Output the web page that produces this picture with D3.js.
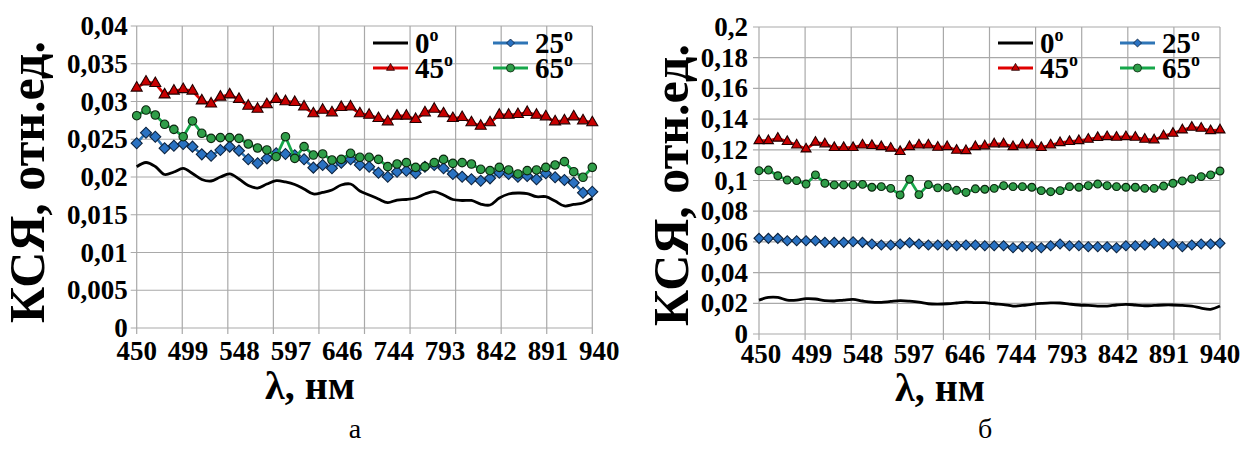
<!DOCTYPE html>
<html><head><meta charset="utf-8">
<script src="https://cdn.jsdelivr.net/npm/d3@7"></script>
<style>html,body{margin:0;padding:0;background:#fff;}svg{display:block;}
text{font-family:"Liberation Serif","Times New Roman","DejaVu Serif",serif;}</style>
</head><body>
<svg id="chart" width="1247" height="452"></svg>
<script>
// ---------- DATA ----------
const wavelengths = [450,460,470,480,490,500,510,520,530,540,550,560,570,580,590,600,610,620,630,640,650,660,670,680,690,700,710,720,730,740,750,760,770,780,790,800,810,820,830,840,850,860,870,880,890,900,910,920,930,940];
const xTickLabels = ["450","499","548","597","646","744","793","842","891","940"];
const gridWavelengths = [450,499,548,597,646,695,744,793,842,891,940];
const seriesNames = ["0","25","45","65"];

const yTicksA = [0,0.005,0.01,0.015,0.02,0.025,0.03,0.035,0.04];
const yTicksB = [0,0.02,0.04,0.06,0.08,0.1,0.12,0.14,0.16,0.18,0.2];

// Chart "а"
const a0 = [0.02136,0.02192,0.02139,0.02033,0.02066,0.02113,0.02046,0.01967,0.01947,0.0200,0.0204,0.01974,0.01887,0.01854,0.01907,0.01951,0.01934,0.01901,0.01841,0.01775,0.01795,0.01828,0.01894,0.01907,0.01815,0.01762,0.01709,0.0166,0.01695,0.01702,0.01722,0.01775,0.01805,0.01762,0.01702,0.01689,0.01689,0.01642,0.01629,0.01722,0.01775,0.01788,0.01781,0.01739,0.01739,0.01682,0.01616,0.01636,0.01656,0.01718];
const a25 = [0.02446,0.02587,0.02534,0.0238,0.02415,0.02437,0.02402,0.023,0.02282,0.02358,0.02402,0.02349,0.02234,0.02181,0.02247,0.02314,0.02305,0.02287,0.02234,0.02124,0.02159,0.02115,0.0219,0.02234,0.02159,0.02137,0.02057,0.02004,0.0207,0.02084,0.02049,0.02137,0.02159,0.02115,0.0204,0.02004,0.01969,0.01951,0.01982,0.02057,0.0204,0.02004,0.02013,0.01969,0.02049,0.01996,0.0196,0.01925,0.01792,0.01805];
const a45 = [0.0318,0.0326,0.0324,0.0309,0.0314,0.0316,0.0314,0.0301,0.0297,0.0306,0.0309,0.0303,0.0294,0.029,0.0296,0.0303,0.03,0.0299,0.0293,0.0284,0.02887,0.02852,0.02923,0.0293,0.0284,0.02821,0.02777,0.02733,0.02808,0.02808,0.02764,0.02852,0.029,0.0284,0.02777,0.0279,0.0272,0.02675,0.0272,0.02821,0.02821,0.0283,0.02857,0.02821,0.02799,0.02733,0.02746,0.02799,0.02746,0.0272];
const a65 = [0.02812,0.02887,0.02821,0.02698,0.02631,0.02534,0.02742,0.02579,0.02512,0.02521,0.02521,0.02512,0.02437,0.02384,0.02358,0.02269,0.02534,0.02247,0.02402,0.02291,0.02305,0.02225,0.02234,0.02314,0.02261,0.02261,0.02234,0.02137,0.02172,0.0219,0.02128,0.02137,0.0219,0.02234,0.02181,0.0219,0.02172,0.02102,0.02084,0.02128,0.02093,0.0204,0.02084,0.02093,0.02128,0.02159,0.02203,0.0207,0.01996,0.02128];

// Chart "б"
const b0 = [0.0221,0.0238,0.0238,0.0221,0.0221,0.023,0.0228,0.0218,0.0215,0.0221,0.0225,0.0215,0.0207,0.0206,0.0212,0.0217,0.0214,0.0208,0.0197,0.0195,0.0197,0.0202,0.0208,0.0205,0.0204,0.0197,0.0192,0.0182,0.0186,0.0193,0.0199,0.0203,0.0202,0.0195,0.0189,0.0186,0.0182,0.0182,0.0189,0.0193,0.0189,0.0184,0.0186,0.0189,0.0189,0.0186,0.0182,0.0169,0.0161,0.0182];
const b25 = [0.0623,0.0623,0.0623,0.0608,0.0608,0.0608,0.0608,0.0597,0.0597,0.0597,0.0601,0.0597,0.0586,0.058,0.058,0.0586,0.0595,0.0586,0.058,0.058,0.058,0.0575,0.058,0.058,0.0575,0.0575,0.0575,0.0562,0.0569,0.0569,0.0562,0.0575,0.0586,0.0575,0.0575,0.0569,0.0569,0.0569,0.0562,0.0575,0.0575,0.058,0.0591,0.0586,0.0586,0.0569,0.058,0.0586,0.0586,0.0591];
const b45 = [0.1259,0.1259,0.1275,0.1253,0.1231,0.1205,0.1249,0.1238,0.1214,0.1214,0.1214,0.1231,0.1227,0.122,0.121,0.1188,0.122,0.1231,0.1231,0.1216,0.122,0.1196,0.1194,0.122,0.1225,0.1238,0.1238,0.122,0.1231,0.1231,0.1214,0.1231,0.1246,0.1253,0.1259,0.1268,0.1279,0.1285,0.1281,0.1285,0.1281,0.1268,0.1264,0.129,0.1307,0.1329,0.1346,0.134,0.1324,0.1329];
const b65 = [0.1064,0.1068,0.1031,0.1003,0.0999,0.0977,0.1036,0.0982,0.0971,0.0971,0.0971,0.0975,0.0956,0.096,0.0949,0.0906,0.1008,0.0908,0.0973,0.0952,0.0955,0.0936,0.0922,0.0946,0.0943,0.0949,0.0966,0.096,0.096,0.0956,0.0934,0.0927,0.0934,0.096,0.0956,0.0966,0.0977,0.0966,0.096,0.0956,0.0956,0.0949,0.0949,0.0964,0.0982,0.0997,0.101,0.1025,0.1036,0.1062];

// ---------- STYLE ----------
const GRID = "#a9a9a9";
const styles = {
  "0":  {line:"#000000", width:2.8, marker:null},
  "25": {line:"#2e75b6", width:2.6, marker:"diamond", fill:"#2a72c2", stroke:"#0d2440"},
  "45": {line:"#e00000", width:2.8, marker:"triangle", fill:"#c80000", stroke:"#220000"},
  "65": {line:"#16a74a", width:2.8, marker:"circle", fill:"#2f9e49", stroke:"#0c260f"}
};

const svg = d3.select("#chart");
svg.append("rect").attr("width",1247).attr("height",452).attr("fill","#fff");

// s = overall marker width in px
function markerPath(type, s) {
  if (type === "triangle") return d3.symbol(d3.symbolTriangle, s*s*Math.sqrt(3)/4)();
  if (type === "diamond") return d3.symbol(d3.symbolSquare, s*s/2)();
  return d3.symbol(d3.symbolCircle, Math.PI*(s/2)*(s/2))();
}

function panel(cfg) {
  const g = svg.append("g");
  const x = d3.scaleLinear().domain([450,940]).range([cfg.x0,cfg.x1]);
  const y = d3.scaleLinear().domain([0,cfg.yMax]).range([cfg.yBot,cfg.yTop]);
  const xl = d3.scalePoint().domain(xTickLabels).range([cfg.x0 + cfg.lblShift, cfg.x1 + cfg.lblExt]);

  // grid
  g.append("g").selectAll("line").data(cfg.yTicks).join("line")
    .attr("x1",cfg.x0-6).attr("x2",cfg.x1).attr("y1",d=>y(d)).attr("y2",d=>y(d))
    .attr("stroke",GRID).attr("stroke-width",1.2);
  g.append("g").selectAll("line").data(gridWavelengths).join("line")
    .attr("x1",d=>x(d)).attr("x2",d=>x(d)).attr("y1",cfg.yTop).attr("y2",cfg.yBot+6)
    .attr("stroke",GRID).attr("stroke-width",1.2);

  // y tick labels
  g.append("g").selectAll("text").data(cfg.yTicks).join("text")
    .attr("x",cfg.x0-cfg.yLblGap).attr("y",d=>y(d)+9)
    .attr("text-anchor","end").attr("font-weight","bold")
    .attr("font-size",27).text(d=>String(+d.toFixed(4)).replace(".",","));

  // x tick labels
  g.append("g").selectAll("text").data(xTickLabels).join("text")
    .attr("x",d=>xl(d)).attr("y",cfg.xLblY)
    .attr("text-anchor","middle").attr("font-weight","bold")
    .attr("font-size",27).text(d=>d);

  // series
  cfg.series.forEach((vals,k)=>{
    const st = styles[seriesNames[k]];
    const pts = wavelengths.map((w,i)=>[x(w),y(vals[i])]);
    const line = d3.line().curve(st.marker ? d3.curveLinear : d3.curveCatmullRom.alpha(0.5));
    g.append("path").attr("d",line(pts)).attr("fill","none")
      .attr("stroke",st.line).attr("stroke-width",st.width).attr("stroke-linejoin","round");
    if (st.marker) {
      const s = cfg.msize[st.marker];
      g.append("g").selectAll("path").data(pts).join("path")
        .attr("d",markerPath(st.marker,s))
        .attr("transform",d=>`translate(${d[0]},${d[1]})` + (st.marker==="diamond"?" rotate(45)":""))
        .attr("fill",st.fill).attr("stroke",st.stroke).attr("stroke-width",1.1);
    }
  });

  // legend
  const legItems = [
    {k:"0", col:0,row:0},{k:"25",col:1,row:0},{k:"45",col:0,row:1},{k:"65",col:1,row:1}
  ];
  legItems.forEach(it=>{
    const st = styles[it.k];
    const lx = cfg.legX[it.col], ly = cfg.legY[it.row];
    g.append("line").attr("x1",lx).attr("x2",lx+35).attr("y1",ly).attr("y2",ly)
      .attr("stroke",st.line).attr("stroke-width",3);
    if (st.marker) {
      g.append("path").attr("d",markerPath(st.marker,8))
        .attr("transform",`translate(${lx+17.5},${ly})`+(st.marker==="diamond"?" rotate(45)":""))
        .attr("fill",st.fill).attr("stroke",st.stroke).attr("stroke-width",0.8);
    }
    const t = g.append("text").attr("x",lx+42).attr("y",ly+10)
      .attr("font-weight","bold").attr("font-size",29);
    t.append("tspan").text(it.k);
    t.append("tspan").attr("font-size",18).attr("dy",-12).text("o");
  });

  // axis titles
  g.append("text").attr("transform",`translate(${cfg.yTitleX},${cfg.yTitleY}) rotate(-90)`)
    .attr("text-anchor","middle").attr("font-weight","bold")
    .attr("font-size",50).text("КСЯ, отн.ед.");
  g.append("text").attr("x",cfg.xTitleX).attr("y",cfg.xTitleY)
    .attr("text-anchor","middle").attr("font-weight","bold")
    .attr("font-size",40).text("λ, нм");
  g.append("text").attr("x",cfg.capX).attr("y",438)
    .attr("text-anchor","middle")
    .attr("font-size",28).text(cfg.caption);
}

panel({x0:136.7,x1:592.3,yTop:26,yBot:328,yMax:0.04,yTicks:yTicksA,
  series:[a0,a25,a45,a65], lblShift:0, lblExt:7, xLblY:360, yLblGap:9,
  msize:{triangle:11,diamond:11,circle:8.5},
  legX:[373,493], legY:[43,68],
  yTitleX:44, yTitleY:182, xTitleX:310, xTitleY:399, capX:355, caption:"а"});

panel({x0:759,x1:1220,yTop:27,yBot:334,yMax:0.2,yTicks:yTicksB,
  series:[b0,b25,b45,b65], lblShift:2, lblExt:0, xLblY:363, yLblGap:11,
  msize:{triangle:10,diamond:10,circle:7.8},
  legX:[998,1120], legY:[43,68],
  yTitleX:688, yTitleY:185, xTitleX:940, xTitleY:401, capX:985, caption:"б"});
</script>
</body></html>
